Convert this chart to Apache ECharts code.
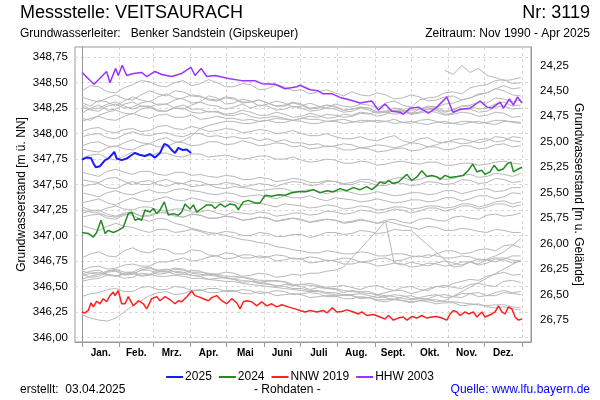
<!DOCTYPE html>
<html><head><meta charset="utf-8">
<script src="https://cdn.jsdelivr.net/npm/echarts@6/dist/echarts.min.js"></script>
<style>html,body{margin:0;padding:0;background:#fff}#c{width:600px;height:400px}</style>
</head><body><div id="c"></div>
<script>
const monthNames = ['Jan.','Feb.','Mrz.','Apr.','Mai','Juni','Juli','Aug.','Sept.','Okt.','Nov.','Dez.'];
const monthStarts = [0,31,59,90,120,151,181,212,243,273,304,334,365];
const monthMids = [15.5,45,74.5,105,135.5,166,196.5,227.5,258,288.5,319,349.5];
const leftTicks = [346,346.25,346.5,346.75,347,347.25,347.5,347.75,348,348.25,348.5,348.75];
const rightTicks = [24.25,24.5,24.75,25,25.25,25.5,25.75,26,26.25,26.5,26.75];
const groundLevel = 372.92;

// historic years (grey), weekly readings (null = gap in record)
const grayDays = [0,7,14,21,28,35,42,49,56,63,70,77,84,91,98,105,112,119,126,133,140,147,154,161,168,175,182,189,196,203,210,217,224,231,238,245,252,259,266,273,280,287,294,301,308,315,322,329,336,343,350,357,364];
const hist01 = [348.42,348.47,348.46,348.41,348.40,348.45,348.48,348.52,348.51,348.47,348.46,348.50,348.52,348.47,348.49,348.53,348.50,348.46,348.46,348.49,348.48,348.43,348.44,348.48,348.46,348.42,348.43,348.39,348.41,348.43,348.40,348.37,348.41,348.38,348.37,348.40,348.38,348.34,348.35,348.38,348.36,348.32,348.33,348.36,348.37,348.33,348.35,348.39,348.40,348.44,348.42,348.38,348.37];
const hist02 = [348.30,348.27,348.33,348.31,348.27,348.32,348.36,348.33,348.31,348.36,348.39,348.35,348.34,348.30,348.31,348.37,348.35,348.29,348.30,348.34,348.32,348.27,348.29,348.32,348.30,348.26,348.27,348.30,348.27,348.25,348.29,348.27,348.26,348.29,348.28,348.25,348.30,348.32,348.28,348.26,348.33,348.35,348.36,348.40,348.41,348.39,348.45,348.47,348.48,348.52,348.53,348.49,348.50];
const hist03 = [348.26,348.23,348.22,348.27,348.29,348.25,348.26,348.30,348.32,348.28,348.29,348.33,348.35,348.38,348.37,348.33,348.32,348.35,348.34,348.30,348.31,348.33,348.30,348.27,348.27,348.30,348.28,348.24,348.25,348.28,348.26,348.23,348.24,348.26,348.25,348.21,348.22,348.25,348.24,348.20,348.21,348.24,348.23,348.19,348.20,348.24,348.24,348.21,348.22,348.26,348.27,348.24,348.25];
const hist04 = [348.20,348.25,348.28,348.23,348.24,348.29,348.31,348.27,348.26,348.22,348.22,348.26,348.28,348.24,348.24,348.21,348.22,348.19,348.20,348.23,348.21,348.18,348.18,348.21,348.19,348.16,348.17,348.20,348.18,348.15,348.16,348.19,348.18,348.21,348.20,348.17,348.19,348.23,348.22,348.19,348.21,348.25,348.24,348.21,348.23,348.27,348.27,348.24,348.25,348.29,348.31,348.27,348.28];
const hist05 = [348.15,348.13,348.18,348.21,348.23,348.20,348.19,348.24,348.26,348.29,348.29,348.25,348.24,348.28,348.31,348.28,348.27,348.24,348.26,348.29,348.25,348.28,348.27,348.23,348.24,348.27,348.25,348.22,348.23,348.25,348.24,348.21,348.22,348.25,348.23,348.20,348.21,348.23,348.22,348.19,348.20,348.22,348.21,348.18,348.19,348.21,348.20,348.17,348.18,348.21,348.20,348.16,348.17];
const hist06 = [348.36,348.33,348.31,348.35,348.38,348.34,348.33,348.38,348.42,348.39,348.37,348.42,348.41,348.37,348.36,348.34,348.33,348.36,348.35,348.31,348.31,348.33,348.30,348.27,348.28,348.31,348.29,348.25,348.26,348.28,348.27,348.23,348.24,348.26,348.25,348.21,348.22,348.25,348.23,348.20,348.24,348.27,348.26,348.22,348.24,348.27,348.28,348.31,348.30,348.35,348.34,348.31,348.33];
const hist07 = [348.28,348.24,348.25,348.29,348.31,348.27,348.24,348.27,348.27,348.23,348.22,348.25,348.25,348.21,348.20,348.22,348.21,348.18,348.18,348.20,348.17,348.15,348.16,348.17,348.15,348.13,348.15,348.14,348.14,348.12,348.13,348.14,348.12,348.11,348.12,348.13,348.12,348.10,348.11,348.12,348.10,348.09,348.11,348.12,348.10,348.09,348.11,348.12,348.10,348.09,348.12,348.12,348.11];
const hist08 = [348.12,348.15,348.17,348.14,348.13,348.17,348.20,348.17,348.15,348.18,348.19,348.16,348.16,348.18,348.14,348.15,348.17,348.15,348.15,348.13,348.14,348.12,348.13,348.15,348.14,348.13,348.15,348.17,348.16,348.19,348.18,348.16,348.17,348.20,348.19,348.22,348.21,348.19,348.20,348.23,348.24,348.26,348.26,348.29,348.30,348.33,348.35,348.38,348.40,348.44,348.47,348.44,348.45];
const hist09 = [348.02,348.05,348.06,348.02,348.01,348.04,348.05,348.02,348.03,348.07,348.08,348.05,348.04,348.07,348.05,348.02,348.03,348.05,348.04,348.01,348.02,348.04,348.03,348.00,348.01,348.03,348.00,347.98,347.98,348.00,347.97,347.95,347.95,347.97,347.94,347.93,347.96,347.98,347.93,347.91,347.95,347.96,347.92,347.91,347.94,347.95,347.93,347.91,347.93,347.97,347.96,347.93,347.92];
const hist10 = [347.97,347.99,348.00,347.96,347.95,347.99,348.02,347.99,347.98,348.00,348.01,347.98,347.97,348.00,348.00,347.97,347.98,347.96,347.97,347.95,347.96,347.93,347.95,347.92,347.94,347.91,347.91,347.89,347.90,347.87,347.88,347.90,347.89,347.86,347.87,347.89,347.88,347.86,347.88,347.91,347.90,347.87,347.89,347.92,347.92,347.90,347.91,347.94,347.95,347.92,347.93,347.97,347.96];
const hist11 = [347.88,347.91,347.92,347.88,347.87,347.91,347.94,347.91,347.90,347.94,347.96,347.92,347.91,347.88,347.89,347.92,347.92,347.89,347.90,347.93,347.91,347.88,347.89,347.91,347.90,347.87,347.88,347.85,347.86,347.88,347.87,347.84,347.84,347.86,347.85,347.82,347.83,347.85,347.86,347.83,347.84,347.87,347.87,347.84,347.85,347.88,347.88,347.85,347.86,347.89,347.90,347.87,347.88];
const hist12 = [347.85,347.83,347.82,347.86,347.88,347.85,347.84,347.88,347.90,347.87,347.87,347.91,347.93,347.98,348.05,348.08,348.10,348.12,348.12,348.10,348.10,348.12,348.13,348.11,348.11,348.13,348.12,348.10,348.10,348.12,348.12,348.10,348.11,348.13,348.13,348.11,348.12,348.14,348.11,348.10,348.13,348.14,348.12,348.10,348.10,348.12,348.12,348.10,348.11,348.13,348.13,348.11,348.10];
const hist13 = [347.76,347.79,347.80,347.76,347.74,347.78,347.82,347.79,347.78,347.81,347.81,347.78,347.77,347.80,347.80,347.77,347.78,347.79,347.77,347.75,347.76,347.78,347.78,347.75,347.75,347.77,347.74,347.72,347.73,347.75,347.74,347.71,347.71,347.73,347.72,347.69,347.70,347.72,347.73,347.71,347.70,347.72,347.72,347.69,347.69,347.71,347.71,347.69,347.70,347.72,347.73,347.71,347.70];
const hist14 = [347.62,347.60,347.58,347.63,347.65,347.62,347.60,347.63,347.63,347.60,347.59,347.62,347.62,347.59,347.60,347.58,347.57,347.59,347.58,347.55,347.55,347.57,347.56,347.53,347.54,347.56,347.55,347.52,347.52,347.54,347.53,347.50,347.50,347.53,347.52,347.49,347.49,347.52,347.51,347.49,347.50,347.53,347.52,347.50,347.51,347.55,347.54,347.51,347.52,347.56,347.55,347.52,347.53];
const hist15 = [347.55,347.53,347.52,347.56,347.57,347.53,347.50,347.53,347.54,347.50,347.48,347.51,347.51,347.48,347.49,347.50,347.47,347.46,347.48,347.47,347.46,347.44,347.45,347.46,347.46,347.43,347.44,347.45,347.43,347.41,347.43,347.44,347.42,347.40,347.41,347.43,347.41,347.39,347.40,347.42,347.42,347.40,347.41,347.44,347.44,347.41,347.43,347.45,347.46,347.43,347.44,347.47,347.47];
const hist16 = [347.48,347.50,347.51,347.47,347.46,347.50,347.53,347.50,347.50,347.53,347.55,347.52,347.51,347.54,347.53,347.50,347.50,347.52,347.51,347.48,347.49,347.51,347.50,347.48,347.51,347.53,347.52,347.49,347.50,347.53,347.53,347.51,347.52,347.55,347.55,347.52,347.53,347.56,347.57,347.54,347.55,347.58,347.58,347.55,347.56,347.59,347.60,347.57,347.58,347.61,347.60,347.58,347.61];
const hist17 = [347.42,347.40,347.38,347.42,347.44,347.41,347.40,347.43,347.45,347.42,347.42,347.45,347.46,347.44,347.43,347.41,347.40,347.42,347.41,347.38,347.39,347.40,347.38,347.36,347.39,347.37,347.37,347.39,347.36,347.34,347.37,347.36,347.35,347.33,347.34,347.36,347.34,347.32,347.33,347.35,347.35,347.33,347.34,347.37,347.37,347.34,347.36,347.39,347.39,347.36,347.38,347.42,347.41];
const hist18 = [347.32,347.34,347.36,347.32,347.30,347.34,347.37,347.34,347.33,347.36,347.38,347.35,347.34,347.37,347.35,347.33,347.32,347.34,347.33,347.30,347.31,347.32,347.30,347.28,347.31,347.30,347.29,347.27,347.28,347.30,347.29,347.26,347.27,347.29,347.28,347.25,347.26,347.28,347.28,347.26,347.27,347.29,347.29,347.27,347.28,347.31,347.31,347.28,347.30,347.33,347.34,347.31,347.33];
const hist19 = [347.28,347.25,347.24,347.27,347.29,347.26,347.25,347.28,347.28,347.25,347.24,347.26,347.26,347.23,347.23,347.25,347.22,347.20,347.23,347.22,347.21,347.23,347.22,347.19,347.20,347.22,347.22,347.20,347.21,347.24,347.23,347.21,347.22,347.25,347.24,347.22,347.23,347.26,347.25,347.22,347.24,347.27,347.27,347.24,347.26,347.29,347.29,347.26,347.28,347.31,347.31,347.28,347.30];
const hist20 = [347.22,347.24,347.25,347.21,347.19,347.22,347.23,347.19,347.20,347.23,347.22,347.19,347.18,347.21,347.20,347.17,347.17,347.19,347.18,347.15,347.16,347.18,347.17,347.14,347.15,347.17,347.16,347.13,347.14,347.16,347.15,347.12,347.13,347.15,347.14,347.12,347.15,347.16,347.13,347.12,347.16,347.17,347.15,347.14,347.18,347.19,347.17,347.16,347.20,347.21,347.19,347.20,347.22];
const hist21 = [347.18,347.20,347.21,347.17,347.16,347.20,347.22,347.19,347.19,347.22,347.23,347.20,347.18,347.21,347.20,347.17,347.17,347.19,347.18,347.15,347.16,347.18,347.17,347.14,347.16,347.17,347.15,347.13,347.15,347.16,347.15,347.13,347.14,347.16,347.14,347.12,347.13,346.73,346.71,346.74,346.72,346.70,346.73,346.75,346.73,346.71,346.74,346.77,346.76,346.74,346.77,346.80,346.80];
const hist22 = [347.25,347.23,347.22,347.19,347.18,347.21,347.20,347.16,347.14,347.17,347.16,347.12,347.10,347.07,347.05,347.03,347.02,347.00,346.98,346.96,346.95,346.93,346.92,346.89,346.88,346.86,346.85,346.83,346.83,346.85,346.84,346.82,346.82,346.84,346.83,346.80,346.80,346.82,346.82,346.80,346.79,346.81,346.80,346.78,346.78,346.80,346.79,346.76,346.76,346.78,346.78,346.76,346.75];
const hist23 = [346.62,346.65,346.66,346.62,346.60,346.63,346.64,346.61,346.62,346.66,346.67,346.64,346.63,346.66,346.65,346.62,346.62,346.64,346.63,346.60,346.61,346.63,346.62,346.59,346.60,346.62,346.61,346.63,346.63,346.65,346.66,346.69,null,null,null,null,347.14,347.12,347.10,347.08,347.06,347.09,347.08,347.05,347.05,347.07,347.06,347.04,347.03,347.06,347.05,347.03,347.03];
const hist24 = [347.10,347.07,347.05,347.09,347.12,347.09,347.08,347.05,347.03,347.06,347.06,347.03,347.04,347.06,347.04,347.01,347.02,347.04,347.03,347.00,347.00,347.03,347.02,346.99,346.99,347.01,347.01,346.98,347.00,347.03,347.03,347.01,347.02,347.05,347.04,347.02,347.03,347.06,347.05,347.05,null,null,null,null,346.69,346.70,346.74,346.72,346.77,346.80,346.84,346.90,346.97];
const hist25 = [346.78,346.82,346.84,346.80,346.79,346.85,346.88,346.84,346.83,346.87,346.86,346.82,346.82,346.86,346.85,346.81,346.80,346.83,346.82,346.78,346.78,346.80,346.79,346.75,346.76,346.78,346.77,346.73,346.74,346.76,346.75,346.72,346.72,346.74,346.73,346.70,346.71,346.73,346.72,346.69,346.70,346.73,346.72,346.70,346.71,346.74,346.74,346.71,346.73,346.77,346.76,346.73,346.75];
const hist26 = [346.66,346.69,346.70,346.67,346.68,346.71,346.72,346.70,346.70,346.74,346.74,346.76,346.78,346.75,346.76,346.79,346.80,346.77,346.78,346.81,346.81,346.78,346.79,346.81,346.80,346.77,346.77,346.79,346.78,346.75,346.76,346.78,346.77,346.74,346.75,346.77,346.78,346.75,346.76,346.79,346.80,346.78,346.82,346.85,346.85,346.82,346.83,346.86,346.87,346.85,346.90,346.91,346.88];
const hist27 = [346.62,346.59,346.60,346.64,346.65,346.61,346.62,346.66,346.66,346.62,346.63,346.65,346.64,346.61,346.60,346.62,346.61,346.58,346.58,346.59,346.57,346.54,346.55,346.56,346.54,346.51,346.52,346.53,346.51,346.49,346.50,346.51,346.49,346.47,346.50,346.51,346.48,346.46,346.49,346.50,346.47,346.46,346.50,346.51,346.49,346.48,346.52,346.53,346.51,346.50,346.55,346.56,346.54];
const hist28 = [346.60,346.63,346.64,346.61,346.60,346.62,346.63,346.60,346.61,346.64,346.65,346.62,346.62,346.61,346.60,346.57,346.58,346.59,346.57,346.54,346.55,346.54,346.53,346.50,346.52,346.51,346.50,346.47,346.49,346.48,346.47,346.44,346.46,346.45,346.45,346.42,346.44,346.46,346.46,346.43,346.45,346.48,346.50,346.49,346.53,346.55,346.57,346.56,346.60,346.62,346.64,346.61,346.62];
const hist29 = [346.57,346.60,346.62,346.65,346.66,346.62,346.62,346.66,346.68,346.65,346.64,346.67,346.66,346.63,346.62,346.61,346.60,346.58,346.57,346.56,346.55,346.53,346.52,346.51,346.50,346.48,346.48,346.46,346.46,346.44,346.44,346.42,346.42,346.43,346.41,346.39,346.40,346.42,346.41,346.38,346.39,346.41,346.42,346.39,346.40,346.43,346.43,346.40,346.41,346.44,346.46,346.44,346.45];
const hist30 = [346.55,346.57,346.58,346.61,346.61,346.58,346.59,346.63,346.62,346.60,346.60,346.61,346.60,346.58,346.58,346.57,346.56,346.55,346.55,346.53,346.52,346.51,346.50,346.49,346.48,346.47,346.46,346.45,346.45,346.43,346.42,346.41,346.41,346.39,346.39,346.37,346.37,346.38,346.36,346.35,346.36,346.37,346.35,346.36,null,null,null,null,null,null,null,null,346.76];
const hist31 = [346.65,346.63,346.62,346.65,346.67,346.64,346.64,346.68,346.69,346.66,346.66,346.68,346.67,346.64,346.64,346.63,346.62,346.60,346.60,346.59,346.58,346.56,346.56,346.55,346.55,346.52,346.52,346.51,346.50,346.48,346.48,346.46,346.45,346.44,346.43,346.42,346.41,346.40,346.38,346.37,346.38,346.37,346.37,346.35,346.35,346.34,346.33,346.32,346.31,346.32,346.32,346.30,346.29];
const hist32 = [346.40,346.43,346.44,346.47,346.48,346.45,346.45,346.49,346.50,346.47,346.47,346.50,346.49,346.46,346.46,346.48,346.48,346.45,346.45,346.47,346.46,346.43,346.44,346.46,346.45,346.42,346.43,346.44,346.43,346.40,346.40,346.42,346.41,346.38,346.39,346.41,346.39,346.37,346.40,346.41,346.38,346.38,346.41,346.42,346.40,346.39,346.43,346.44,346.41,346.41,346.44,346.43,346.42];
const hist33 = [346.22,346.19,346.17,346.16,346.19,346.25,346.31,346.36,346.41,346.44,346.45,346.42,346.43,346.46,346.47,346.44,346.44,346.46,346.46,346.43,346.43,346.45,346.44,346.41,346.42,346.43,346.42,346.39,346.40,346.41,346.41,346.38,346.38,346.40,346.39,346.36,346.35,346.37,346.36,346.34,346.36,346.35,346.33,346.34,346.34,346.31,346.32,346.33,346.30,346.29,346.30,346.28,346.27];
// 1990 (record starts in November)
const y1990Days = [301,308,315,322,329,336,343,350,357,364];
const y1990Vals = [348.62,348.58,348.67,348.60,348.64,348.57,348.55,348.52,348.53,348.55];

// 2025
const y2025Days = [0,3.9,7.5,9.4,11.4,14.9,19.1,21.8,24.6,26.8,28.8,32.9,37.1,41.2,44,48.1,52.3,56.4,60.6,64.7,68.3,71.1,74.4,77.2,79.9,83.2,86.9,90.5];
const y2025Vals = [347.745,347.765,347.76,347.71,347.67,347.68,347.74,347.755,347.79,347.82,347.755,347.74,347.755,347.79,347.81,347.79,347.78,347.80,347.765,347.81,347.90,347.885,347.84,347.81,347.86,347.84,347.845,347.81];
// 2024
const y2024Days = [0,5.2,9.4,12.2,15.8,17.7,19.1,21.8,26,30.1,34.3,38.4,41.2,44,46.7,49.5,52.3,56.4,59.2,62,64.7,68.3,71.6,75.8,79.9,82.7,85.5,89.6,92.4,95.2,99.3,103.5,107.6,110.4,114.5,118.7,122.8,127,129.7,133.9,138,143.6,147.7,151.9,157.4,162.9,168.5,174,179.5,185.6,192,197.5,203.1,208.5,214.1,219.7,225.1,230.7,236.3,240.4,244.6,247.3,251.5,254.2,258.3,262.5,269.5,273.6,277.8,281.9,286.1,290.2,294.4,297.1,301.2,305.4,311,316.4,320.6,324.2,327.6,331.7,334.4,338.6,341.9,345.5,349.6,352.9,355.8,357.9,360.7,365];
const y2024Vals = [347.03,347.02,346.985,347.03,347.15,347.08,347.02,347.05,347.03,347.05,347.08,347.215,347.23,347.15,347.165,347.15,347.25,347.23,347.265,347.215,347.25,347.33,347.20,347.215,347.20,347.23,347.31,347.26,347.30,347.23,347.265,347.30,347.30,347.265,347.31,347.28,347.31,347.30,347.255,347.33,347.345,347.32,347.32,347.395,347.385,347.40,347.395,347.42,347.43,347.43,347.45,347.42,347.44,347.43,347.46,347.44,347.47,347.45,347.48,347.45,347.49,347.525,347.51,347.54,347.51,347.525,347.60,347.54,347.575,347.635,347.58,347.59,347.575,347.55,347.59,347.57,347.58,347.59,347.64,347.70,347.625,347.64,347.60,347.625,347.69,347.635,347.655,347.705,347.72,347.625,347.645,347.67];
// NNW 2019
const nnwDays = [0,2.5,5.2,7.5,9.4,12.2,14.9,17.7,20.5,23.2,26,27.4,30.1,32.9,35.7,38.4,42.6,46.7,50.9,53.7,57.8,62,64.7,68.9,73,77.2,79.9,82.7,86.9,91,93.8,96.5,100.7,104.8,107.6,111.8,115.9,120.1,124.2,128.4,131.1,133.9,136.7,140.8,145,149.1,153.3,157.4,161.6,165.7,171.2,176.8,180.9,185.1,189.2,194.8,200.2,203.1,207.7,211.4,215.5,219.7,225.1,229.3,232.1,236.3,241.7,247.3,251.5,254.2,258.3,262.5,266.6,269.5,273.6,277.8,281.9,286.1,290.2,294.4,298.5,302.7,305.4,308.1,311,313.7,317.8,320.6,324.7,327.6,331.7,334.4,337.2,340,342.7,345.5,348.3,351,353.8,356.6,359.3,362.1,364.9];
const nnwVals = [346.25,346.24,346.265,346.34,346.30,346.355,346.33,346.38,346.35,346.41,346.445,346.41,346.46,346.33,346.33,346.40,346.31,346.36,346.33,346.28,346.38,346.40,346.36,346.40,346.37,346.33,346.36,346.35,346.40,346.455,346.41,346.40,346.38,346.36,346.39,346.41,346.36,346.33,346.38,346.34,346.28,346.35,346.36,346.35,346.31,346.35,346.31,346.33,346.30,346.32,346.30,346.28,346.265,346.25,346.265,346.25,346.265,346.24,346.29,346.25,346.255,346.27,346.25,346.23,346.25,346.215,346.225,346.20,346.18,346.215,346.17,346.19,346.20,346.17,346.205,346.19,346.215,346.19,346.20,346.205,346.19,346.17,346.23,346.265,346.25,346.215,346.25,346.23,346.25,346.20,346.25,346.20,346.215,346.23,346.25,346.31,346.25,346.23,346.30,346.28,346.20,346.17,346.18];
// HHW 2003
const hhwDays = [0,10,20.4,23.2,27.9,30.1,33.4,37.1,42.6,49.6,53.7,60.6,66.1,74.4,82.7,90.4,93.8,98.8,103.5,110.4,121.4,132.5,143.6,149.1,160.2,168.5,178.2,180.9,189.2,195.9,200,207.5,214.1,222.4,230.7,240.4,245.9,251.5,257,263.9,266.6,272.2,279.1,287.4,294.4,302.7,307.7,313.7,322,330.3,335.9,340,346.9,349.7,354.6,357.9,361.3,364.9];
const hhwVals = [348.60,348.485,348.61,348.50,348.64,348.57,348.67,348.57,348.59,348.60,348.56,348.61,348.58,348.56,348.59,348.65,348.57,348.64,348.56,348.57,348.54,348.52,348.52,348.49,348.485,348.44,348.46,348.475,348.43,348.42,348.39,348.39,348.355,348.33,348.30,348.32,348.23,348.29,348.22,348.21,348.19,348.25,348.26,348.20,348.26,348.36,348.21,348.24,348.25,348.32,348.26,348.25,348.31,348.25,348.34,348.28,348.36,348.30];

const grayYears = [hist01,hist02,hist03,hist04,hist05,hist06,hist07,hist08,hist09,hist10,hist11,hist12,hist13,hist14,hist15,hist16,hist17,hist18,hist19,hist20,hist21,hist22,hist23,hist24,hist25,hist26,hist27,hist28,hist29,hist30,hist31,hist32,hist33];

const FONT = '"Liberation Sans", Arial, sans-serif';
const fmt = v => v.toFixed(2).replace('.', ',');
const pairs = (d, v) => v.map((y, i) => [d[i], y]);

const series = [];
grayYears.forEach((vals, k) => series.push({
  name: 'hist' + k, type: 'line', symbol: 'none', silent: true, z: 2, connectNulls: true,
  lineStyle: { color: '#b8b8b8', width: 1 }, data: pairs(grayDays, vals)
}));
series.push({ name: 'hist1990', type: 'line', symbol: 'none', silent: true, z: 2,
  lineStyle: { color: '#b8b8b8', width: 1 }, data: pairs(y1990Days, y1990Vals) });
series.push({ name: 'HHW 2003', type: 'line', symbol: 'none', z: 5, lineStyle: { color: '#9933ff', width: 1.5 }, itemStyle: { color: '#9933ff' }, data: pairs(hhwDays, hhwVals) });
series.push({ name: 'NNW 2019', type: 'line', symbol: 'none', z: 5, lineStyle: { color: '#ff2020', width: 1.5 }, itemStyle: { color: '#ff2020' }, data: pairs(nnwDays, nnwVals) });
series.push({ name: '2024', type: 'line', symbol: 'none', z: 6, lineStyle: { color: '#228b22', width: 1.5 }, itemStyle: { color: '#228b22' }, data: pairs(y2024Days, y2024Vals) });
series.push({ name: '2025', type: 'line', symbol: 'none', z: 7, lineStyle: { color: '#1a1aff', width: 2 }, itemStyle: { color: '#1a1aff' }, data: pairs(y2025Days, y2025Vals) });

const chart = echarts.init(document.getElementById('c'), null, { renderer: 'canvas' });
chart.setOption({
  animation: false,
  backgroundColor: '#fff',
  textStyle: { fontFamily: FONT },
  grid: { left: 75, right: 69, top: 47, bottom: 58, show: true, borderColor: '#999', borderWidth: 1, containLabel: false, outerBoundsMode: 'none' },
  legend: {
    data: ['2025', '2024', 'NNW 2019', 'HHW 2003'], top: 366, left: 'center',
    icon: 'rect', itemWidth: 17, itemHeight: 2, itemGap: 7,
    textStyle: { fontSize: 12, color: '#000', fontFamily: FONT, padding: [0, 0, 0, -3] }
  },
  xAxis: {
    type: 'value', min: -5.8, max: 372.5,
    axisLine: { show: true, lineStyle: { color: '#999' } },
    axisTick: { show: true, customValues: monthStarts, length: 5, lineStyle: { color: '#999' } },
    axisLabel: { customValues: monthMids, formatter: v => monthNames[monthMids.indexOf(v)], fontSize: 10, fontWeight: 'bold', color: '#000', margin: 6, fontFamily: FONT },
    splitLine: { show: true, lineStyle: { color: '#d8d8d8', type: [3, 3] } }
  },
  yAxis: [
    {
      type: 'value', position: 'left', min: 345.955, max: 348.85,
      name: 'Grundwasserstand [m ü. NN]', nameLocation: 'middle', nameRotate: 90, nameGap: 47, nameMoveOverlap: false,
      nameTextStyle: { fontSize: 12, color: '#000', fontFamily: FONT },
      axisLine: { show: true, lineStyle: { color: '#999' } },
      axisTick: { show: false, customValues: leftTicks },
      axisLabel: { customValues: leftTicks, formatter: fmt, fontSize: 11.5, color: '#000', margin: 7, fontFamily: FONT },
      splitLine: { show: true, lineStyle: { color: '#d8d8d8', type: [3, 3] } }
    },
    {
      type: 'value', position: 'right', inverse: true,
      min: groundLevel - 348.85, max: groundLevel - 345.955,
      name: 'Grundwasserstand [m u. Gelände]', nameLocation: 'middle', nameRotate: -90, nameGap: 41, nameMoveOverlap: false,
      nameTextStyle: { fontSize: 12, color: '#000', fontFamily: FONT },
      axisLine: { show: true, lineStyle: { color: '#999' } },
      axisTick: { show: false, customValues: rightTicks },
      axisLabel: { customValues: rightTicks, formatter: fmt, fontSize: 11.5, color: '#000', margin: 9, fontFamily: FONT },
      splitLine: { show: false }
    }
  ],
  graphic: [
    { type: 'text', left: 20, top: 4, style: { text: 'Messstelle: VEITSAURACH', font: '18px ' + FONT, fill: '#000' } },
    { type: 'text', right: 10, top: 4, style: { text: 'Nr: 3119', font: '18px ' + FONT, fill: '#000' } },
    { type: 'text', left: 20, top: 28, style: { text: 'Grundwasserleiter:   Benker Sandstein (Gipskeuper)', font: '12px ' + FONT, fill: '#000' } },
    { type: 'text', right: 10, top: 28, style: { text: 'Zeitraum: Nov 1990 - Apr 2025', font: '12px ' + FONT, fill: '#000' } },
    { type: 'text', left: 20, top: 384, style: { text: 'erstellt:  03.04.2025', font: '12px ' + FONT, fill: '#000' } },
    { type: 'text', left: 254, top: 384, style: { text: '- Rohdaten -', font: '12px ' + FONT, fill: '#000' } },
    { type: 'text', right: 10, top: 384, style: { text: 'Quelle: www.lfu.bayern.de', font: '12px ' + FONT, fill: '#0000ff' } }
  ],
  series: series
});
</script></body></html>
